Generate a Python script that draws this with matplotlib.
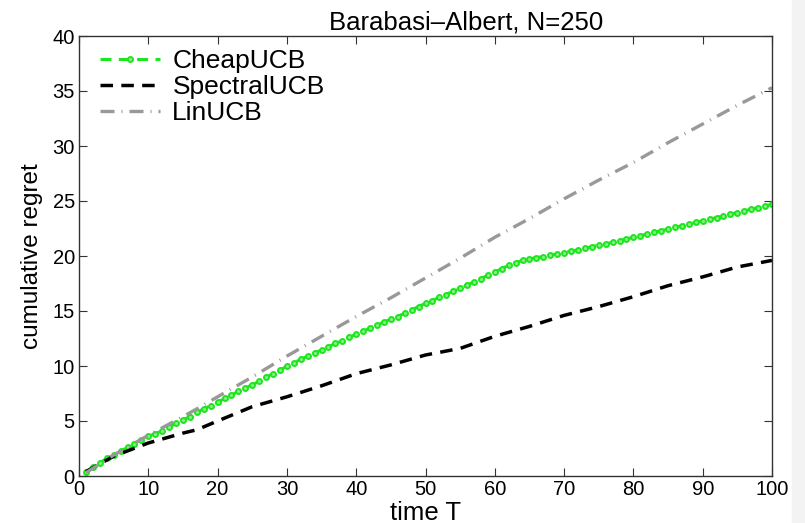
import numpy as np
import matplotlib
matplotlib.use("Agg")
import matplotlib.pyplot as plt
from matplotlib.patches import Rectangle

plt.rcParams['font.family'] = ['Liberation Sans', 'DejaVu Sans']

# CheapUCB, one value per time step t = 1..100
t_cheap = list(range(1, 101))
cheap = [0.35, 0.8, 1.2, 1.6, 1.9, 2.25, 2.6, 2.95, 3.3, 3.6,
         3.85, 4.1, 4.45, 4.8, 5.1, 5.4, 5.8, 6.1, 6.4, 6.7,
         7.05, 7.35, 7.7, 8.0, 8.3, 8.6, 9.0, 9.3, 9.6, 10.0,
         10.3, 10.6, 10.9, 11.2, 11.45, 11.75, 12.05, 12.3, 12.6, 12.9,
         13.15, 13.45, 13.7, 14.0, 14.25, 14.5, 14.8, 15.1, 15.4, 15.7,
         15.95, 16.25, 16.5, 16.8, 17.05, 17.35, 17.65, 17.95, 18.25, 18.55,
         18.85, 19.15, 19.4, 19.6, 19.75, 19.85, 19.95, 20.05, 20.2, 20.3,
         20.45, 20.55, 20.7, 20.85, 21.0, 21.1, 21.25, 21.4, 21.55, 21.7,
         21.85, 22.0, 22.15, 22.3, 22.45, 22.6, 22.75, 22.9, 23.05, 23.2,
         23.35, 23.5, 23.65, 23.8, 23.95, 24.1, 24.25, 24.4, 24.55, 24.7]

t_other = [1, 5, 10, 15, 17, 20, 25, 30, 35, 40, 45, 50, 55, 60, 65, 70, 75, 80, 85, 90, 95, 100]
spectral = [0.4, 1.8, 3.0, 3.9, 4.2, 5.0, 6.3, 7.2, 8.2, 9.3, 10.1, 11.0, 11.6, 12.7,
            13.6, 14.6, 15.4, 16.3, 17.3, 18.1, 19.0, 19.6]
linucb = [0.3, 1.9, 3.7, 5.4, 6.1, 7.2, 9.0, 10.9, 12.7, 14.5, 16.2, 18.0, 19.8, 21.7,
          23.4, 25.2, 26.9, 28.5, 30.3, 32.0, 33.7, 35.3]

green = '#1ee61e'

fig = plt.figure(figsize=(8.05, 5.23), dpi=100)
fig.patches.append(Rectangle((792 / 805, 0), 1, 1, transform=fig.transFigure,
                             color='#f3f3f3', zorder=-1))
ax = fig.add_axes([79 / 805, 47 / 523, 693 / 805, 440 / 523])

ax.plot(t_cheap, cheap, color=green, linestyle='--', linewidth=2.2,
        marker='o', markersize=3.6, markeredgewidth=1.4,
        markerfacecolor='#8af08a', markeredgecolor=green,
        dashes=(3.6, 2.4), label='CheapUCB')
ax.plot(t_other, spectral, color='black', linestyle='--', linewidth=2.5,
        dashes=(3.6, 2.4), label='SpectralUCB')
ax.plot(t_other, linucb, color='#999999', linestyle='-.', linewidth=2.4,
        dashes=(4.2, 2.1, 0.3, 2.1), label='LinUCB')

ax.set_xlim(0, 100)
ax.set_ylim(0, 40)
ax.set_xticks(np.arange(0, 101, 10))
ax.set_yticks(np.arange(0, 41, 5))
ax.tick_params(direction='in', length=6, width=0.8, top=True, right=True,
               labelsize=14.5, colors='#333333', labelcolor='black', pad=3)
for s in ax.spines.values():
    s.set_color('#333333')
    s.set_linewidth(1.0)

ax.set_title('Barabasi\u2013Albert, N=250', fontsize=18.5, pad=5, x=0.558)
ax.set_xlabel('time T', fontsize=18.5, labelpad=1)
ax.set_ylabel('cumulative regret', fontsize=17.5, labelpad=7)

ax.legend(loc='upper left', bbox_to_anchor=(0.03, 0.97), frameon=False,
          fontsize=19, handlelength=2.3, numpoints=1, handletextpad=0.45,
          labelspacing=0.08, borderaxespad=0, borderpad=0)

fig.savefig('out.png', dpi=100)
